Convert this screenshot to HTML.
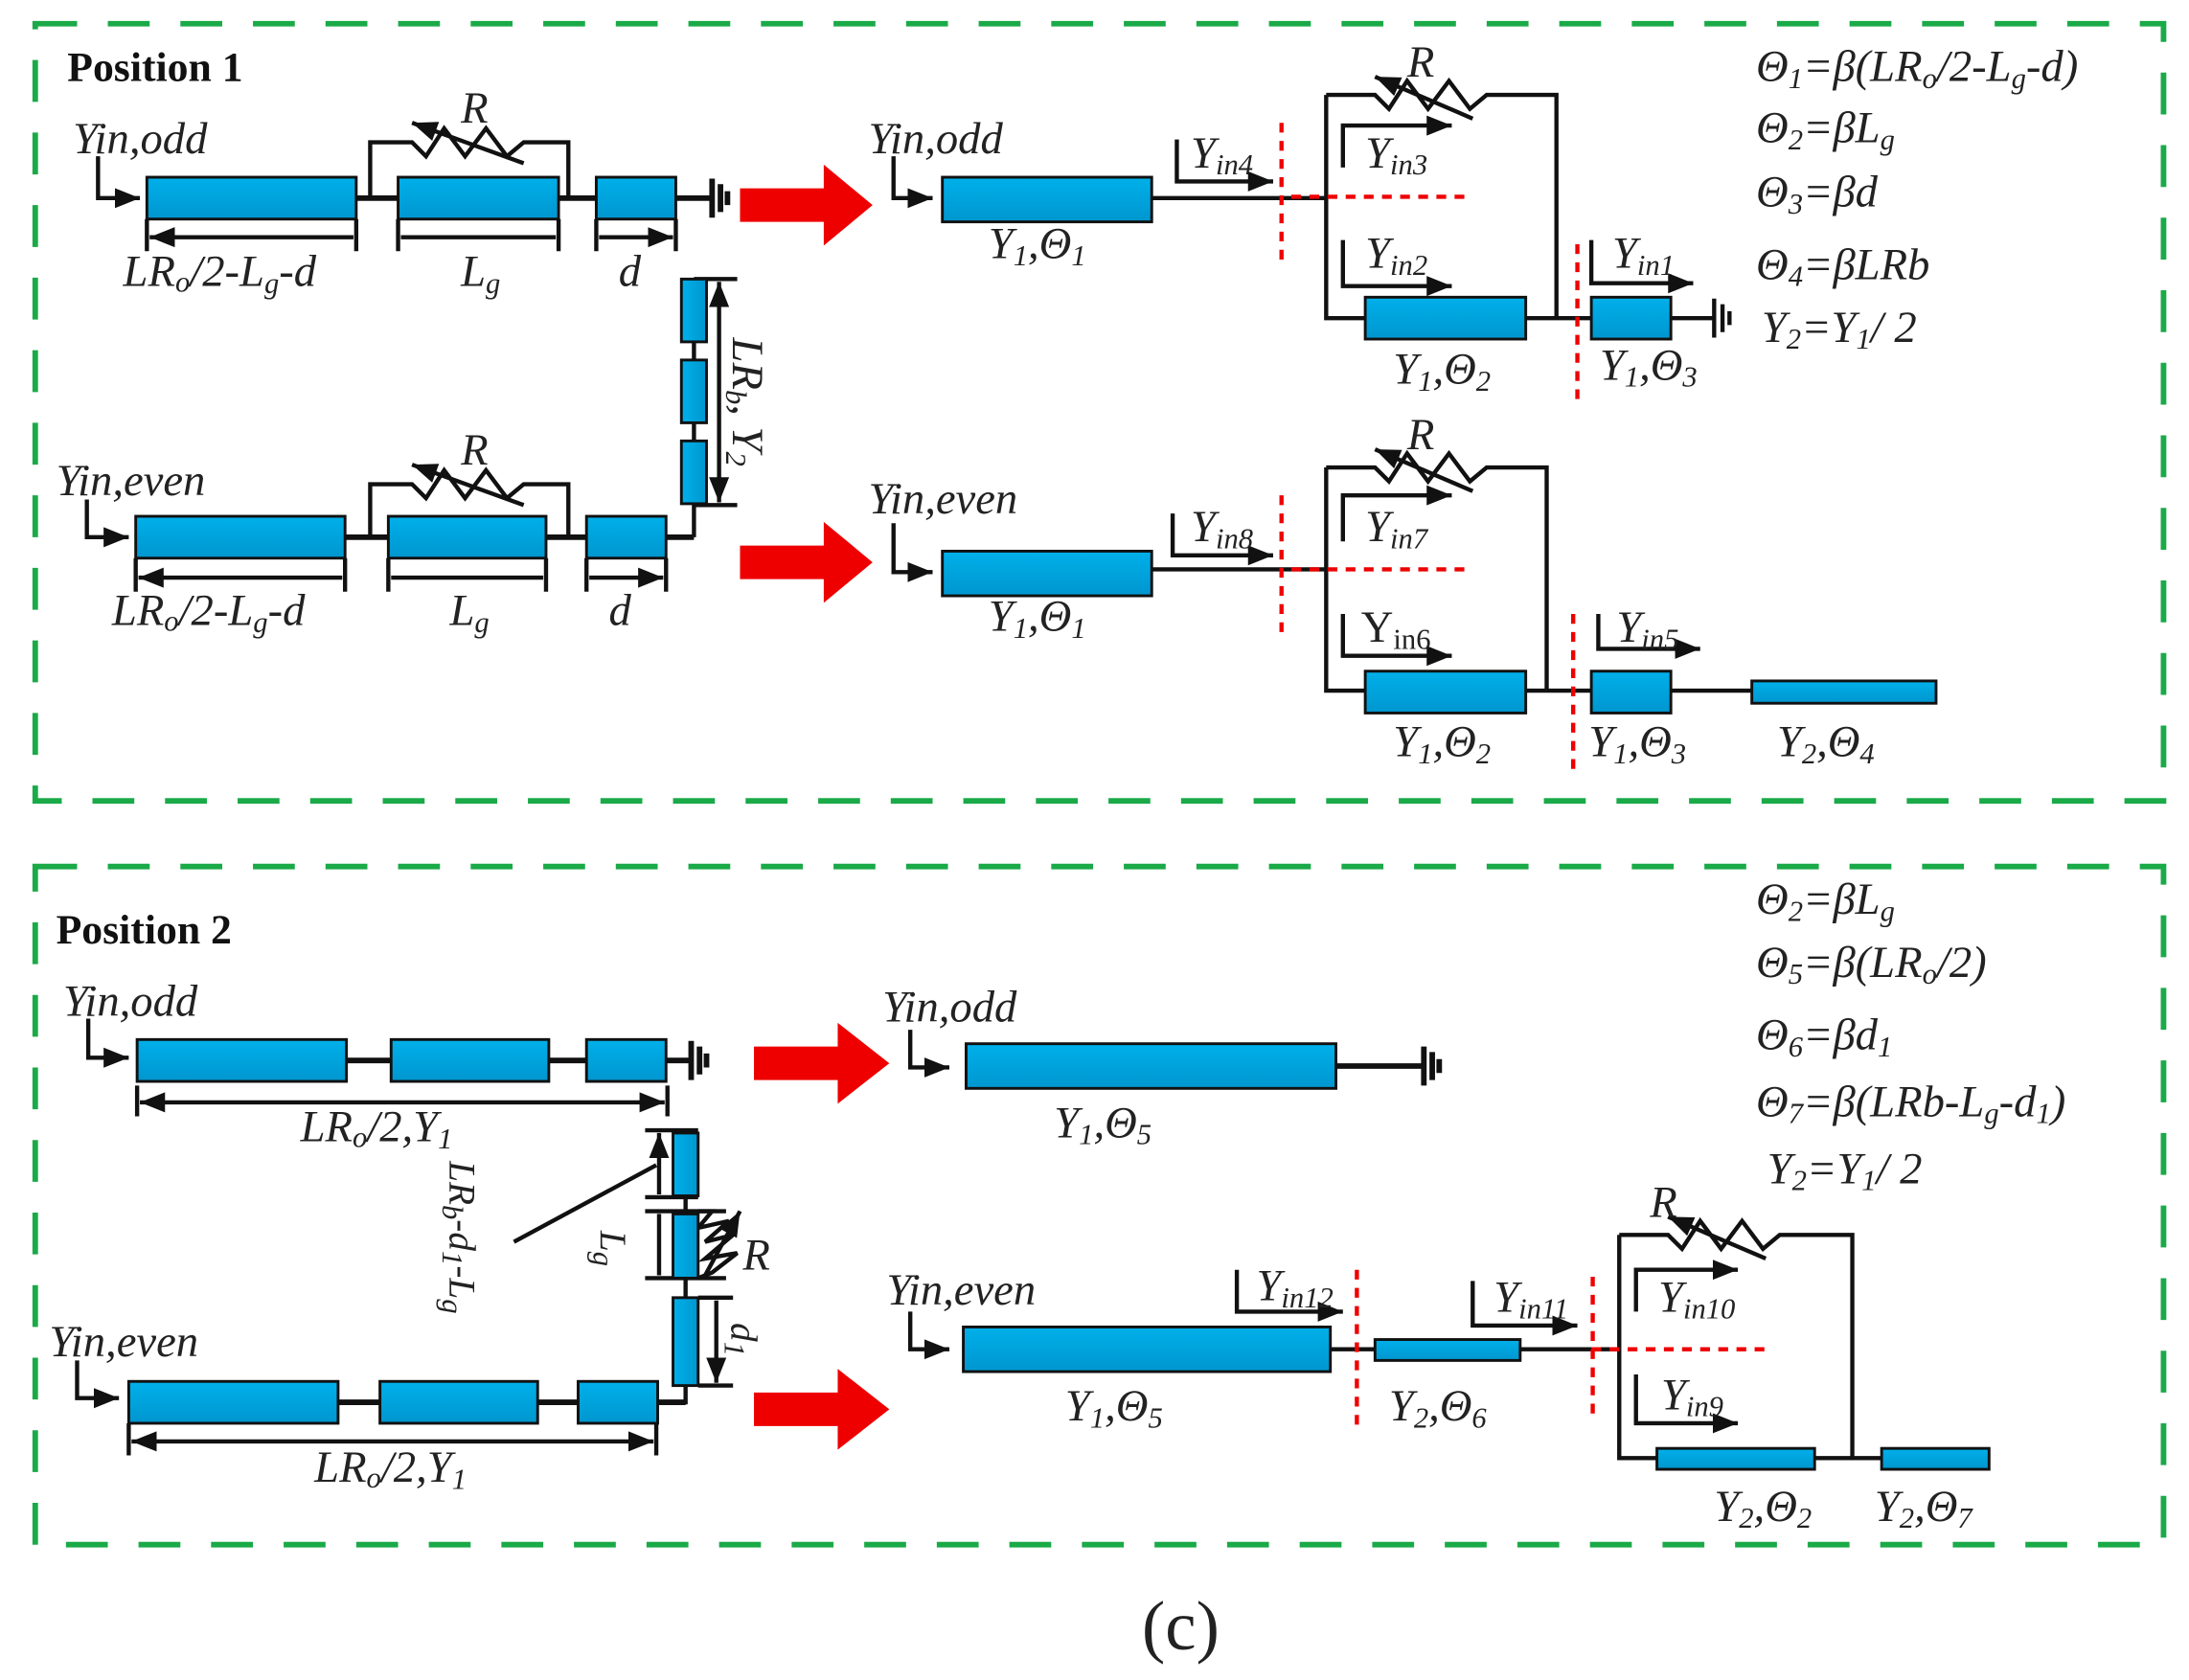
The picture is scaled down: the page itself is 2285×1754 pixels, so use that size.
<!DOCTYPE html>
<html><head><meta charset="utf-8"><style>html,body{margin:0;padding:0;background:#fff}svg{display:block}
text{font-family:"Liberation Serif","DejaVu Serif",serif;font-style:italic;font-size:32px;fill:#222}
.b{font-family:"Liberation Serif","DejaVu Serif",serif;font-style:normal;font-weight:bold;font-size:30px;fill:#111}
.s{font-size:21px}
</style></head><body>
<svg width="2285" height="1754" viewBox="0 0 1568 1204" xmlns="http://www.w3.org/2000/svg" font-family="Liberation Serif, serif">
<defs>
<linearGradient id="g" x1="0" y1="0" x2="0" y2="1"><stop offset="0" stop-color="#00b0ea"/><stop offset="1" stop-color="#0096cf"/></linearGradient>
<linearGradient id="gv" x1="0" y1="0" x2="1" y2="0"><stop offset="0" stop-color="#00b0ea"/><stop offset="1" stop-color="#0096cf"/></linearGradient>
<marker id="a" viewBox="0 0 10 10" refX="10" refY="5" markerWidth="6" markerHeight="6" orient="auto-start-reverse"><path d="M0,1 L10,5 L0,9z" fill="#111"/></marker>
</defs>
<g fill="none" stroke="#1aaa48" stroke-width="4" stroke-dasharray="30 22">
<rect x="25" y="17" width="1525" height="557"/>
<rect x="25" y="621" width="1525" height="486"/>
</g>
<g stroke="#111" stroke-width="3" fill="none">
<path d="M70,112V142H100" marker-end="url(#a)"/>
<path d="M255,142H285M400,142H427M484,142H510M510,128V156M516,132V152M521,137V147" stroke-width="4"/>
<path d="M265,142V102H295L305,112L318,92L333,112L348,92L363,112L375,102H407V142"/>
<path d="M375,117L295,88" marker-end="url(#a)"/>
<path d="M105,157V180M255,157V180M285,157V180M400,157V180M427,157V180M484,157V180"/>
<path d="M107,170H253M287,170H398M429,170H482" marker-start="url(#a)" marker-end="url(#a)"/>
<path d="M497,245V258M497,303V316M497,361V385M497,200H528M497,362H528"/>
<path d="M515,202V360" marker-start="url(#a)" marker-end="url(#a)"/>
<path d="M62,358V385H92" marker-end="url(#a)"/>
<path d="M247,385H278M391,385H420M477,385H497" stroke-width="4"/>
<path d="M265,385V347H295L305,357L318,337L333,357L348,337L363,357L375,347H407V385"/>
<path d="M375,362L295,333" marker-end="url(#a)"/>
<path d="M97,400V424M247,400V424M278,400V424M391,400V424M420,400V424M477,400V424"/>
<path d="M99,414H245M280,414H389M422,414H475" marker-start="url(#a)" marker-end="url(#a)"/>
<path d="M640,112V142H668" marker-end="url(#a)"/>
<path d="M825,142H950M950,68V228H978M1093,228H1140M1197,228H1228M1228,214V242M1234,218V238M1239,223V233" stroke-width="3"/>
<path d="M950,68H985L995,78L1008,58L1023,78L1038,58L1053,78L1065,68H1115V228"/>
<path d="M1055,85L985,55" marker-end="url(#a)"/>
<path d="M843,100V130H912" marker-end="url(#a)"/>
<path d="M962,120V90H1040" marker-end="url(#a)"/>
<path d="M962,172V205H1040" marker-end="url(#a)"/>
<path d="M1140,172V203H1213" marker-end="url(#a)"/>
<path d="M640,375V410H668" marker-end="url(#a)"/>
<path d="M825,408H950M950,335V495H978M1093,495H1140M1197,495H1255"/>
<path d="M950,335H985L995,345L1008,325L1023,345L1038,325L1053,345L1065,335H1108V495"/>
<path d="M1055,352L985,322" marker-end="url(#a)"/>
<path d="M840,368V398H912" marker-end="url(#a)"/>
<path d="M962,388V355H1040" marker-end="url(#a)"/>
<path d="M962,440V470H1040" marker-end="url(#a)"/>
<path d="M1145,440V465H1218" marker-end="url(#a)"/>
<path d="M63,730V758H92" marker-end="url(#a)"/>
<path d="M248,760H280M393,760H420M477,760H495M495,746V774M501,750V770M506,755V765" stroke-width="4"/>
<path d="M98,778V800M478,778V800"/>
<path d="M100,790H476" marker-start="url(#a)" marker-end="url(#a)"/>
<path d="M491,857V870M491,916V930M491,993V1005H471M462,810H500M462,858H500M462,868H520M462,916H520M500,930H525M500,993H525"/>
<path d="M472,812V856M472,870V914M513,932V991" marker-start="url(#a)" marker-end="url(#a)"/>
<path d="M470,835L368,890"/>
<path d="M500,868H510L500,880L522,875L505,890L525,885L505,902L528,898L510,912L500,916"/>
<path d="M505,914L530,868" marker-end="url(#a)"/>
<path d="M55,975V1002H85" marker-end="url(#a)"/>
<path d="M242,1005H272M385,1005H414M471,1005H491" stroke-width="4"/>
<path d="M92,1020V1043M470,1020V1043"/>
<path d="M94,1033H468" marker-start="url(#a)" marker-end="url(#a)"/>
<path d="M652,738V765H680" marker-end="url(#a)"/>
<path d="M957,764H1020M1020,750V778M1026,754V774M1031,759V769" stroke-width="4"/>
<path d="M652,940V967H680" marker-end="url(#a)"/>
<path d="M953,967H985M1089,967H1160M1160,885V1045H1187M1300,1045H1348" stroke-width="3"/>
<path d="M1160,885H1195L1205,895L1218,875L1233,895L1248,875L1263,895L1275,885H1327V1045"/>
<path d="M1265,902L1195,872" marker-end="url(#a)"/>
<path d="M886,910V940H962" marker-end="url(#a)"/>
<path d="M1055,918V950H1130" marker-end="url(#a)"/>
<path d="M1172,940V910H1245" marker-end="url(#a)"/>
<path d="M1172,985V1020H1245" marker-end="url(#a)"/>
</g>
<g fill="url(#g)" stroke="#111" stroke-width="2">
<rect x="105" y="127" width="150" height="30"/><rect x="285" y="127" width="115" height="30"/><rect x="427" y="127" width="57" height="30"/>
<rect x="97" y="370" width="150" height="30"/><rect x="278" y="370" width="113" height="30"/><rect x="420" y="370" width="57" height="30"/>
<rect x="675" y="127" width="150" height="32"/><rect x="978" y="213" width="115" height="30"/><rect x="1140" y="213" width="57" height="30"/>
<rect x="675" y="395" width="150" height="32"/><rect x="978" y="481" width="115" height="30"/><rect x="1140" y="481" width="57" height="30"/><rect x="1255" y="488" width="132" height="16"/>
<rect x="98" y="745" width="150" height="30"/><rect x="280" y="745" width="113" height="30"/><rect x="420" y="745" width="57" height="30"/>
<rect x="92" y="990" width="150" height="30"/><rect x="272" y="990" width="113" height="30"/><rect x="414" y="990" width="57" height="30"/>
<rect x="692" y="748" width="265" height="32"/><rect x="690" y="951" width="263" height="32"/><rect x="985" y="960" width="104" height="15"/>
<rect x="1187" y="1038" width="113" height="15"/><rect x="1348" y="1038" width="77" height="15"/>
</g>
<g fill="url(#gv)" stroke="#111" stroke-width="2">
<rect x="488" y="200" width="18" height="45"/><rect x="488" y="258" width="18" height="45"/><rect x="488" y="316" width="18" height="45"/>
<rect x="482" y="812" width="18" height="45"/><rect x="482" y="870" width="18" height="46"/><rect x="482" y="930" width="18" height="63"/>
</g>
<g fill="#ee0000">
<path d="M530,135H590V118L625,147L590,176V159H530z"/>
<path d="M530,391H590V374L625,403L590,432V415H530z"/>
<path d="M540,750H600V733L637,762L600,791V774H540z"/>
<path d="M540,998H600V981L637,1010L600,1039V1022H540z"/>
</g>
<g stroke="#ee0000" stroke-width="3" stroke-dasharray="7 6" fill="none">
<path d="M918,88V190M925,141H1050M1130,175V290M918,355V455M925,408H1050M1127,440V555M972,910V1025M1141,915V1015M1140,967H1265"/>
</g>
<text class="b" x="48" y="58">Position 1</text>
<text class="b" x="40" y="676">Position 2</text>
<text x="52" y="110">Yin,odd</text>
<text x="88" y="205">LR<tspan class="s" dy="4">o</tspan><tspan dy="-4">/2-L</tspan><tspan class="s" dy="5">g</tspan><tspan dy="-5">-d</tspan></text>
<text x="330" y="205">L<tspan class="s" dy="5">g</tspan></text>
<text x="443" y="205">d</text>
<text x="330" y="88">R</text>
<text x="330" y="333">R</text>
<text transform="translate(525,242) rotate(90)">LR<tspan class="s" dy="5">b</tspan><tspan dy="-5">, Y</tspan><tspan class="s" dy="5">2</tspan></text>
<text x="40" y="355">Yin,even</text>
<text x="80" y="448">LR<tspan class="s" dy="4">o</tspan><tspan dy="-4">/2-L</tspan><tspan class="s" dy="5">g</tspan><tspan dy="-5">-d</tspan></text>
<text x="322" y="448">L<tspan class="s" dy="5">g</tspan></text>
<text x="436" y="448">d</text>
<text x="622" y="110">Yin,odd</text>
<text x="708" y="185">Y<tspan class="s" dy="5">1</tspan><tspan dy="-5">,Θ</tspan><tspan class="s" dy="5">1</tspan></text>
<text x="853" y="120">Y<tspan class="s" dy="5">in4</tspan></text>
<text x="978" y="120">Y<tspan class="s" dy="5">in3</tspan></text>
<text x="978" y="192">Y<tspan class="s" dy="5">in2</tspan></text>
<text x="1155" y="192">Y<tspan class="s" dy="5">in1</tspan></text>
<text x="1008" y="55">R</text>
<text x="998" y="275">Y<tspan class="s" dy="5">1</tspan><tspan dy="-5">,Θ</tspan><tspan class="s" dy="5">2</tspan></text>
<text x="1146" y="272">Y<tspan class="s" dy="5">1</tspan><tspan dy="-5">,Θ</tspan><tspan class="s" dy="5">3</tspan></text>
<text x="622" y="368">Yin,even</text>
<text x="708" y="452">Y<tspan class="s" dy="5">1</tspan><tspan dy="-5">,Θ</tspan><tspan class="s" dy="5">1</tspan></text>
<text x="853" y="388">Y<tspan class="s" dy="5">in8</tspan></text>
<text x="978" y="388">Y<tspan class="s" dy="5">in7</tspan></text>
<text x="975" y="460" style="font-style:normal">Y<tspan class="s" dy="5">in6</tspan></text>
<text x="1158" y="460">Y<tspan class="s" dy="5">in5</tspan></text>
<text x="1008" y="322">R</text>
<text x="998" y="542">Y<tspan class="s" dy="5">1</tspan><tspan dy="-5">,Θ</tspan><tspan class="s" dy="5">2</tspan></text>
<text x="1138" y="542">Y<tspan class="s" dy="5">1</tspan><tspan dy="-5">,Θ</tspan><tspan class="s" dy="5">3</tspan></text>
<text x="1273" y="542">Y<tspan class="s" dy="5">2</tspan><tspan dy="-5">,Θ</tspan><tspan class="s" dy="5">4</tspan></text>
<text x="1258" y="58">Θ<tspan class="s" dy="5">1</tspan><tspan dy="-5">=β(LR</tspan><tspan class="s" dy="5">o</tspan><tspan dy="-5">/2-L</tspan><tspan class="s" dy="5">g</tspan><tspan dy="-5">-d)</tspan></text>
<text x="1258" y="102">Θ<tspan class="s" dy="5">2</tspan><tspan dy="-5">=βL</tspan><tspan class="s" dy="5">g</tspan></text>
<text x="1258" y="148">Θ<tspan class="s" dy="5">3</tspan><tspan dy="-5">=βd</tspan></text>
<text x="1258" y="200">Θ<tspan class="s" dy="5">4</tspan><tspan dy="-5">=βLRb</tspan></text>
<text x="1262" y="245">Y<tspan class="s" dy="5">2</tspan><tspan dy="-5">=Y</tspan><tspan class="s" dy="5">1</tspan><tspan dy="-5">/ 2</tspan></text>
<text x="45" y="728">Yin,odd</text>
<text x="215" y="818">LR<tspan class="s" dy="4">o</tspan><tspan dy="-4">/2,Y</tspan><tspan class="s" dy="5">1</tspan></text>
<text transform="translate(322,832) rotate(90)" style="font-size:27px">LR<tspan class="s" dy="5">b</tspan><tspan dy="-5">-d</tspan><tspan class="s" dy="5">1</tspan><tspan dy="-5">-L</tspan><tspan class="s" dy="5">g</tspan></text>
<text transform="translate(430,882) rotate(90)" style="font-size:27px">L<tspan class="s" dy="5">g</tspan></text>
<text transform="translate(524,948) rotate(90)" style="font-size:27px">d<tspan class="s" dy="5">1</tspan></text>
<text x="532" y="910">R</text>
<text x="35" y="972">Yin,even</text>
<text x="225" y="1062">LR<tspan class="s" dy="4">o</tspan><tspan dy="-4">/2,Y</tspan><tspan class="s" dy="5">1</tspan></text>
<text x="632" y="732">Yin,odd</text>
<text x="755" y="815">Y<tspan class="s" dy="5">1</tspan><tspan dy="-5">,Θ</tspan><tspan class="s" dy="5">5</tspan></text>
<text x="635" y="935">Yin,even</text>
<text x="763" y="1018">Y<tspan class="s" dy="5">1</tspan><tspan dy="-5">,Θ</tspan><tspan class="s" dy="5">5</tspan></text>
<text x="900" y="932">Y<tspan class="s" dy="5">in12</tspan></text>
<text x="1070" y="940">Y<tspan class="s" dy="5">in11</tspan></text>
<text x="1188" y="940">Y<tspan class="s" dy="5">in10</tspan></text>
<text x="1190" y="1010">Y<tspan class="s" dy="5">in9</tspan></text>
<text x="1182" y="872">R</text>
<text x="995" y="1018">Y<tspan class="s" dy="5">2</tspan><tspan dy="-5">,Θ</tspan><tspan class="s" dy="5">6</tspan></text>
<text x="1228" y="1090">Y<tspan class="s" dy="5">2</tspan><tspan dy="-5">,Θ</tspan><tspan class="s" dy="5">2</tspan></text>
<text x="1343" y="1090">Y<tspan class="s" dy="5">2</tspan><tspan dy="-5">,Θ</tspan><tspan class="s" dy="5">7</tspan></text>
<text x="1258" y="655">Θ<tspan class="s" dy="5">2</tspan><tspan dy="-5">=βL</tspan><tspan class="s" dy="5">g</tspan></text>
<text x="1258" y="700">Θ<tspan class="s" dy="5">5</tspan><tspan dy="-5">=β(LR</tspan><tspan class="s" dy="5">o</tspan><tspan dy="-5">/2)</tspan></text>
<text x="1258" y="752">Θ<tspan class="s" dy="5">6</tspan><tspan dy="-5">=βd</tspan><tspan class="s" dy="5">1</tspan></text>
<text x="1258" y="800">Θ<tspan class="s" dy="5">7</tspan><tspan dy="-5">=β(LRb-L</tspan><tspan class="s" dy="5">g</tspan><tspan dy="-5">-d</tspan><tspan class="s" dy="5">1</tspan><tspan dy="-5">)</tspan></text>
<text x="1266" y="848">Y<tspan class="s" dy="5">2</tspan><tspan dy="-5">=Y</tspan><tspan class="s" dy="5">1</tspan><tspan dy="-5">/ 2</tspan></text>
<text x="818" y="1182" style="font-style:normal;font-size:50px">(c)</text>
</svg>
</body></html>
